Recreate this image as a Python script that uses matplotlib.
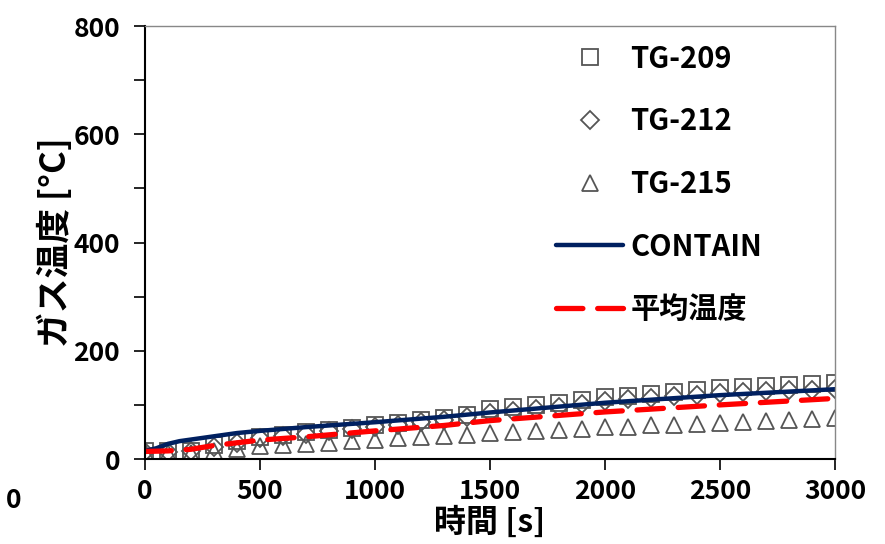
import numpy as np
import matplotlib.pyplot as plt

plt.rcParams['font.family'] = ['Noto Sans CJK JP', 'DejaVu Sans']
plt.rcParams['font.weight'] = 'bold'

# measured points, every 100 s
t_meas = np.arange(0, 3001, 100)
tg209 = [15, 14, 15, 25, 33, 40, 44, 50, 54, 58, 62, 66, 72, 76, 82, 92,
         96, 100, 104, 109, 114, 117, 121, 124, 127, 131, 133, 135, 136, 138, 140]
tg212 = [13, 13, 14, 22, 30, 38, 42, 47, 51, 55, 59, 63, 68, 72, 77, 85,
         89, 93, 97, 102, 107, 110, 113, 116, 119, 122, 124, 126, 127, 128, 129]
tg215 = [13, 12, 11, 15, 19, 24, 26, 28, 30, 33, 35, 38, 40, 43, 45, 48,
         50, 52, 54, 56, 59, 60, 62, 63, 65, 66, 68, 70, 72, 74, 76]

# calculation / average curves
t_calc = [0, 50, 100, 150, 200, 300, 400, 500, 700, 1000, 1300, 1500, 2000, 2500, 3000]
contain = [15, 20, 28, 33, 36, 42, 48, 52, 59, 68, 78, 86, 104, 118, 129]
t_avg = [0, 100, 200, 300, 500, 700, 1000, 1300, 1500, 2000, 2500, 3000]
avg_temp = [14, 15, 18, 25, 35, 41, 52, 62, 71, 87, 100, 112]

fig = plt.figure(figsize=(8.85, 5.44), dpi=100)
ax = fig.add_axes([0.1638, 0.1562, 0.7797, 0.796])

mk = dict(linestyle='none', markerfacecolor='none', markeredgecolor='#555555',
          markeredgewidth=1.3, markersize=11)
ax.plot(t_meas, tg209, marker='s', label='TG-209', **mk)
ax.plot(t_meas, tg212, marker='D', label='TG-212', **dict(mk, markersize=9))
ax.plot(t_meas, tg215, marker='^', label='TG-215', **dict(mk, markersize=12))
ax.plot(t_calc, contain, color='#002060', lw=3.2, label='CONTAIN',
        solid_capstyle='round')
ax.plot(t_avg, avg_temp, color='#ff0000', lw=3.8, dashes=(5, 2.8),
        dash_capstyle='round', label='平均温度')

ax.set_xlim(0, 3000)
ax.set_ylim(0, 800)
ax.set_xticks(np.arange(0, 3001, 500))
ax.set_yticks(np.arange(0, 801, 200))
ax.set_yticks(np.arange(0, 801, 100), minor=True)
ax.tick_params(axis='both', direction='out', length=8, width=1.2, labelsize=19,
               pad=6)
ax.tick_params(axis='y', which='both', pad=10)
ax.tick_params(axis='y', which='minor', direction='out', length=8, width=1.2)
for lab in ax.get_xticklabels() + ax.get_yticklabels():
    lab.set_fontweight('bold')

for s in ['left', 'bottom']:
    ax.spines[s].set_color('black')
    ax.spines[s].set_linewidth(1.5)
for s in ['top', 'right']:
    ax.spines[s].set_color('#888888')
    ax.spines[s].set_linewidth(1.0)

ax.set_xlabel('時間 [s]', fontsize=23, fontweight='bold', labelpad=1)
ax.set_ylabel('ガス温度 [°C]', fontsize=25, fontweight='bold', labelpad=0)

leg = ax.legend(loc='upper right', frameon=False,
                labelspacing=1.12, handlelength=2.3, handletextpad=0.25,
                borderaxespad=0.2, bbox_to_anchor=(0.92, 1.0),
                prop={'weight': 'bold', 'size': 21})

fig.text(14 / 885, 1 - 500 / 544, '0', fontsize=19, fontweight='bold',
         ha='center', va='center')

fig.savefig('out.png', dpi=100)
